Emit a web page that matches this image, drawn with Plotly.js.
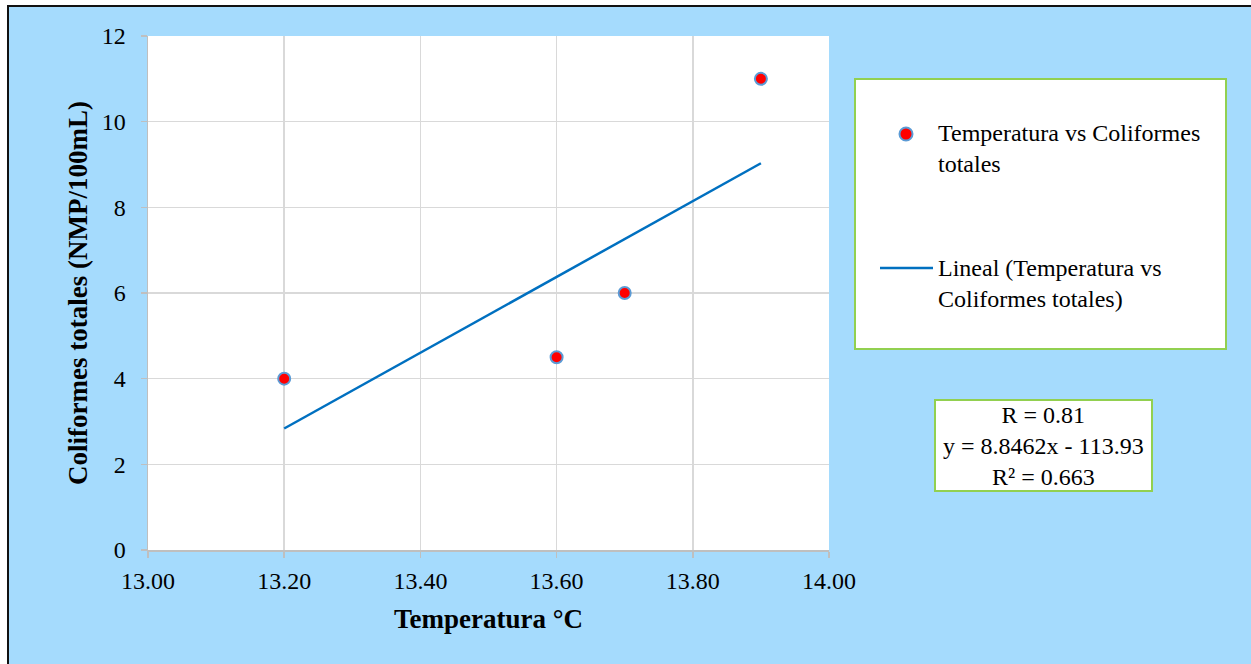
<!DOCTYPE html>
<html>
<head>
<meta charset="utf-8">
<script src="https://cdn.plot.ly/plotly-3.0.1.min.js"></script>
<style>
  html, body { margin: 0; padding: 0; background: #ffffff; overflow: hidden; }
  #frame { position: absolute; left: 7px; top: 5px; border-left: 2px solid #111; border-top: 2px solid #111; }
  #chart { width: 1242px; height: 657px; }
</style>
</head>
<body>
<div id="frame"><div id="chart"></div></div>
<script>
// Data
const temperatura = [13.2, 13.6, 13.7, 13.9];
const coliformes = [4, 4.5, 6, 11];
const xTicks = [13.0, 13.2, 13.4, 13.6, 13.8, 14.0];
const xTickLabels = ['13.00', '13.20', '13.40', '13.60', '13.80', '14.00'];
const yTicks = [0, 2, 4, 6, 8, 10, 12];
const seriesName = 'Temperatura vs Coliformes totales';
const trendName = 'Lineal (Temperatura vs Coliformes totales)';
const statsLines = ['R = 0.81', 'y = 8.8462x - 113.93', 'R² = 0.663'];

// Least-squares linear trend from the data
const n = temperatura.length;
const mx = temperatura.reduce((a, b) => a + b, 0) / n;
const my = coliformes.reduce((a, b) => a + b, 0) / n;
let sxy = 0, sxx = 0;
for (let i = 0; i < n; i++) { sxy += (temperatura[i] - mx) * (coliformes[i] - my); sxx += (temperatura[i] - mx) ** 2; }
const slope = sxy / sxx, intercept = my - slope * mx;
const xMin = Math.min(...temperatura), xMax = Math.max(...temperatura);
const trendX = [xMin, xMax];
const trendY = trendX.map(x => slope * x + intercept);

const FONT = 'Liberation Serif';
const W = 1242, H = 657;
const M = { l: 139, r: 422, t: 29, b: 114 };
const pw = W - M.l - M.r, ph = H - M.t - M.b;
const px = x => (x - M.l) / pw;
const py = y => (H - M.b - y) / ph;
// chart div starts at page pixel (9,7)
const PX = x => px(x - 9), PY = y => py(y - 7);

const traces = [
  {
    x: trendX, y: trendY, type: 'scatter', mode: 'lines', name: trendName,
    line: { color: '#0070c0', width: 2.5 }, showlegend: false, hoverinfo: 'skip'
  },
  {
    x: temperatura, y: coliformes, type: 'scatter', mode: 'markers', name: seriesName,
    marker: { color: '#ff0000', size: 12, line: { color: '#5b9bd5', width: 2 } }, showlegend: false
  }
];

const shapes = [
  { type: 'rect', xref: 'paper', yref: 'paper', x0: PX(855), x1: PX(1226), y0: PY(349), y1: PY(79),
    fillcolor: '#ffffff', line: { color: '#92d050', width: 2 }, layer: 'below' },
  { type: 'circle', xref: 'paper', yref: 'paper', x0: PX(899.5), x1: PX(912.5), y0: PY(140.5), y1: PY(127.5),
    fillcolor: '#ff0000', line: { color: '#5b9bd5', width: 2 } },
  { type: 'line', xref: 'paper', yref: 'paper', x0: PX(880), x1: PX(933), y0: PY(268), y1: PY(268),
    line: { color: '#0070c0', width: 2.5 } },
  { type: 'rect', xref: 'paper', yref: 'paper', x0: PX(935), x1: PX(1152), y0: PY(491), y1: PY(400),
    fillcolor: '#ffffff', line: { color: '#92d050', width: 2 }, layer: 'below' }
];

const annotations = [
  { xref: 'paper', yref: 'paper', x: PX(936), y: PY(148), xanchor: 'left', yanchor: 'middle', align: 'left',
    showarrow: false, text: 'Temperatura vs Coliformes<br>totales', font: { family: FONT, size: 24, color: '#000' } },
  { xref: 'paper', yref: 'paper', x: PX(936), y: PY(283), xanchor: 'left', yanchor: 'middle', align: 'left',
    showarrow: false, text: 'Lineal (Temperatura vs<br>Coliformes totales)', font: { family: FONT, size: 24, color: '#000' } },
  { xref: 'paper', yref: 'paper', x: PX(1043.5), y: PY(446), xanchor: 'center', yanchor: 'middle', align: 'center',
    showarrow: false, text: statsLines.join('<br>'), font: { family: FONT, size: 24, color: '#000' } }
];

const layout = {
  width: W, height: H,
  margin: M,
  paper_bgcolor: '#a5dbfd',
  plot_bgcolor: '#ffffff',
  showlegend: false,
  font: { family: FONT, size: 24, color: '#000' },
  xaxis: {
    range: [13.0, 14.0], tickvals: xTicks, ticktext: xTickLabels,
    showgrid: true, gridcolor: '#d9d9d9', gridwidth: 1.5,
    showline: true, linecolor: '#bfbfbf', linewidth: 1.5,
    ticks: 'outside', ticklen: 6, tickcolor: '#bfbfbf', tickwidth: 1.5,
    tickfont: { family: FONT, size: 24, color: '#000' },
    ticklabelstandoff: 3,
    zeroline: false, automargin: false,
    title: { text: '<b>Temperatura °C</b>', font: { family: FONT, size: 27, color: '#000' }, standoff: 16 }
  },
  yaxis: {
    range: [0, 12], tickvals: yTicks,
    showgrid: true, gridcolor: '#d9d9d9', gridwidth: 1.5,
    showline: true, linecolor: '#bfbfbf', linewidth: 1.5,
    ticks: 'outside', ticklen: 6, tickcolor: '#bfbfbf', tickwidth: 1.5,
    tickfont: { family: FONT, size: 24, color: '#000' },
    ticklabelstandoff: 10,
    zeroline: false, automargin: false,
    title: { text: '<b>Coliformes totales (NMP/100mL)</b>', font: { family: FONT, size: 27, color: '#000' }, standoff: 6 }
  },
  shapes: shapes,
  annotations: annotations
};

Plotly.newPlot('chart', traces, layout, { displayModeBar: false, staticPlot: true });
</script>
</body>
</html>
